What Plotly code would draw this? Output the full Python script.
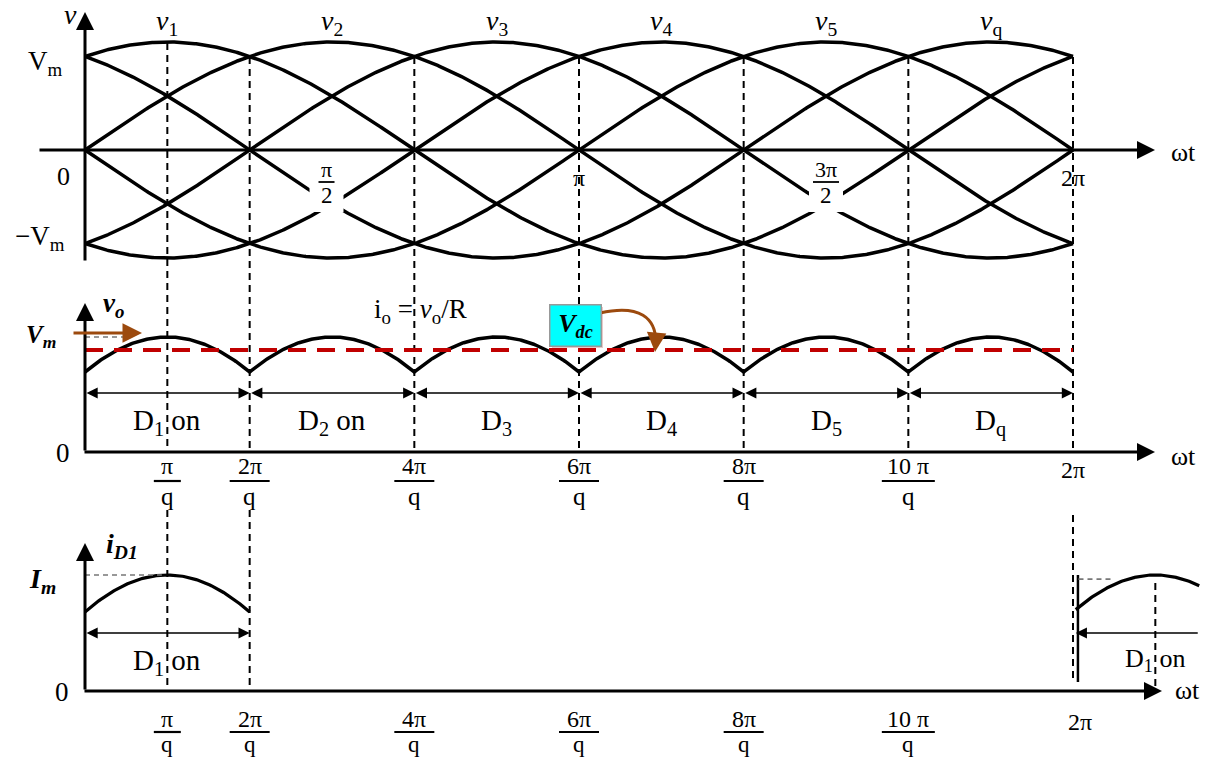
import numpy as np
import plotly.graph_objects as go

# ---------------- data ----------------
phase_labels = ["<i>v</i><sub>1</sub>", "<i>v</i><sub>2</sub>", "<i>v</i><sub>3</sub>",
                "<i>v</i><sub>4</sub>", "<i>v</i><sub>5</sub>", "<i>v</i><sub>q</sub>"]
phase_peak_deg = [30, 90, 150, 210, 270, 330]          # peak of each phase voltage (q = 6)
boundary_deg = [0, 60, 120, 180, 240, 300, 360]       # commutation instants 2kπ/q
diode_labels = ["D<sub>1</sub> on", "D<sub>2</sub> on", "D<sub>3</sub>",
                "D<sub>4</sub>", "D<sub>5</sub>", "D<sub>q</sub>"]
tick_deg = [30, 60, 120, 180, 240, 300]
tick_num = ["π", "2π", "4π", "6π", "8π", "10 π"]
tick_den = ["q", "q", "q", "q", "q", "q"]
top_frac_deg = [88, 270]
top_frac_num = ["π", "3π"]
top_frac_den = ["2", "2"]
top_single_deg = [180, 360]
top_single_txt = ["π", "2π"]
vm_level = 1.0          # Vm (per unit)
vdc_level = 0.95        # Vdc
id1_on_deg = [0, 60]    # D1 conducting interval
id1_next_deg = [361, 406]

# ---------------- geometry helpers ----------------
W, H = 1208, 759
X0_PX, DEG_PX = 85.0, 988.0 / 360.0
x_range = [-X0_PX / DEG_PX, (W - X0_PX) / DEG_PX]


def py(p):
    return 1 - p / H


def pxp(p):
    return p / W


def yrange(va, pa, vb, pb):
    s = (pb - pa) / (va - vb)
    top = va + pa / s
    return [top - H / s, top]


c30 = np.cos(np.radians(30))
r_top = yrange(1, 42, 0, 150)
r_mid = yrange(1, 337, c30, 372)
r_bot = yrange(1, 575, c30, 612)

SERIF = "Liberation Serif"
fig = go.Figure()

# ---------------- traces ----------------
theta = np.linspace(0, 360, 721)
for lab, pk in zip(phase_labels, phase_peak_deg):
    fig.add_trace(go.Scatter(x=theta, y=np.cos(np.radians(theta - pk)), mode="lines",
                             line=dict(color="black", width=3.5), yaxis="y", name=lab,
                             hoverinfo="skip", showlegend=False))
vo = np.max([np.cos(np.radians(theta - pk)) for pk in phase_peak_deg], axis=0)
fig.add_trace(go.Scatter(x=theta, y=vo, mode="lines", line=dict(color="black", width=3.5),
                         yaxis="y2", hoverinfo="skip", showlegend=False))
th1 = np.linspace(id1_on_deg[0], id1_on_deg[1], 121)
fig.add_trace(go.Scatter(x=th1, y=np.cos(np.radians(th1 - phase_peak_deg[0])), mode="lines",
                         line=dict(color="black", width=3.2), yaxis="y3", hoverinfo="skip",
                         showlegend=False))
th2 = np.linspace(id1_next_deg[0], id1_next_deg[1], 91)
fig.add_trace(go.Scatter(x=th2, y=np.cos(np.radians(th2 - 360 - phase_peak_deg[0])), mode="lines",
                         line=dict(color="black", width=3.2), yaxis="y3", hoverinfo="skip",
                         showlegend=False))

shapes = []
annotations = []


def label(x, xref, ypx, text, size=24, **kw):
    d = dict(x=x, xref=xref, y=py(ypx), yref="paper", text=text, showarrow=False,
             xanchor="center", yanchor="middle",
             font=dict(family=SERIF, size=size, color="black"))
    d.update(kw)
    annotations.append(d)


def txt(xp, ypx, t, size=24, bold=False, italic=False, **kw):
    if italic:
        t = "<i>" + t + "</i>"
    if bold:
        t = "<b>" + t + "</b>"
    label(pxp(xp), "paper", ypx, t, size, **kw)


DASH_BLK = dict(color="black", width=2, dash="7px,5px")

# vertical dashed lines (top + middle)
for b in boundary_deg[1:]:
    shapes.append(dict(type="line", xref="x", yref="paper", x0=b, x1=b, y0=py(57), y1=py(452),
                       line=DASH_BLK, layer="below"))
shapes.append(dict(type="line", xref="x", yref="paper", x0=30, x1=30, y0=py(43), y1=py(452),
                   line=DASH_BLK, layer="below"))
# bottom panel dashed lines
for b, y0, y1 in [(30, 510, 688), (60, 510, 690), (360, 515, 682)]:
    shapes.append(dict(type="line", xref="x", yref="paper", x0=b, x1=b, y0=py(y0), y1=py(y1),
                       line=DASH_BLK, layer="below"))
shapes.append(dict(type="line", xref="x", yref="paper", x0=390, x1=390, y0=py(583), y1=py(690),
                   line=DASH_BLK, layer="below"))
# restarted vertical axis at 2π in bottom panel
shapes.append(dict(type="line", xref="x", yref="paper", x0=361.8, x1=361.8, y0=py(575), y1=py(682),
                   line=dict(color="black", width=2.5)))

# Vm / Im grey dashed reference lines
GREY = dict(color="#777777", width=1.6, dash="5px,4px")
shapes.append(dict(type="line", xref="x", yref="y2", x0=0, x1=14, y0=vm_level, y1=vm_level, line=GREY))
shapes.append(dict(type="line", xref="x", yref="y3", x0=0, x1=28, y0=vm_level, y1=vm_level, line=GREY))
shapes.append(dict(type="line", xref="x", yref="y3", x0=362, x1=374, y0=0.985, y1=0.985, line=GREY))

# red Vdc dashed line
shapes.append(dict(type="line", xref="x", yref="y2", x0=0, x1=360, y0=vdc_level, y1=vdc_level,
                   line=dict(color="#C00000", width=4, dash="18px,11px")))

# white patches behind π/2 and 3π/2 labels + fraction bars
for d in top_frac_deg:
    xc = X0_PX + d * DEG_PX
    hw = 8 if d < 200 else 13
    shapes.append(dict(type="rect", xref="paper", yref="paper", x0=pxp(xc - 17), x1=pxp(xc + 17),
                       y0=py(212), y1=py(158), fillcolor="white", line=dict(width=0), layer="above"))
    shapes.append(dict(type="line", xref="paper", yref="paper", x0=pxp(xc - hw), x1=pxp(xc + hw),
                       y0=py(182), y1=py(182), line=dict(color="black", width=1.8), layer="above"))

# top fraction/single labels
for d, n, dn in zip(top_frac_deg, top_frac_num, top_frac_den):
    label(d, "x", 170, n, 22)
    label(d, "x", 195, dn, 23)
for d, t in zip(top_single_deg, top_single_txt):
    label(d, "x", 178, t, 24)

# phase labels
for lab, pk in zip(phase_labels, phase_peak_deg):
    label(pk, "x", 23, lab, 28)

# top panel axis labels
txt(70, 15, "v", 28, italic=True)
txt(45, 63, "V<sub>m</sub>", 27)
txt(63, 176, "0", 26)
txt(40, 238, "−V<sub>m</sub>", 27)
txt(1183, 153, "ωt", 26)


# axis arrows
def axis_arrow(hx, hy, tx, ty, w=3):
    annotations.append(dict(x=pxp(hx), xref="paper", y=py(hy), yref="paper", text="",
                            showarrow=True, axref="pixel", ayref="pixel", ax=tx - hx, ay=ty - hy,
                            arrowhead=2, arrowsize=1.2, arrowwidth=w, arrowcolor="black",
                            standoff=0, startstandoff=0))


axis_arrow(1155, 150, 38, 150)
axis_arrow(85, 12, 85, 262)
axis_arrow(1155, 452, 83, 452)
axis_arrow(85, 303, 85, 452)
axis_arrow(1162, 691, 83, 691)
axis_arrow(85, 543, 85, 691)

# middle panel labels
txt(113, 305, "v<sub>o</sub>", 27, bold=True, italic=True)
txt(41, 336, "V<sub>m</sub>", 25, bold=True, italic=True)
annotations.append(dict(x=pxp(142), xref="paper", y=py(333), yref="paper", text="", showarrow=True,
                        axref="pixel", ayref="pixel", ax=-70, ay=0, arrowhead=2, arrowsize=1.3,
                        arrowwidth=3, arrowcolor="#9C4A0E", standoff=0))
txt(420, 311, "i<sub>o</sub> = <i>v</i><sub>o</sub>/R", 27)
txt(63, 453, "0", 27)
txt(1183, 456, "ωt", 26)

# Vdc box
shapes.append(dict(type="rect", xref="paper", yref="paper", x0=pxp(552), x1=pxp(603), y0=py(348),
                   y1=py(307), fillcolor="#E8C8C8", line=dict(width=0)))
txt(575, 325, "V<sub>dc</sub>", 26, bold=True, italic=True, bgcolor="#00FFFF",
    bordercolor="#999999", borderwidth=1.5, borderpad=3, width=44, height=34)
shapes.append(dict(type="path", xref="paper", yref="paper",
                   path="M {},{} C {},{} {},{} {},{}".format(pxp(600), py(313), pxp(640), py(304),
                                                              pxp(656), py(318), pxp(656), py(343)),
                   line=dict(color="#9C4A0E", width=3)))
annotations.append(dict(x=pxp(655), xref="paper", y=py(352), yref="paper", text="", showarrow=True,
                        axref="pixel", ayref="pixel", ax=1, ay=-12, arrowhead=2, arrowsize=1.3,
                        arrowwidth=3, arrowcolor="#9C4A0E", standoff=0))

# D conduction arrows
for i, lab in enumerate(diode_labels):
    a, b = boundary_deg[i], boundary_deg[i + 1]
    annotations.append(dict(x=b, xref="x", y=py(393), yref="paper", axref="x", ax=a, ayref="pixel",
                            ay=0, text="", showarrow=True, arrowside="end+start", arrowhead=2,
                            arrowsize=1.4, arrowwidth=1.6, arrowcolor="black", standoff=0,
                            startstandoff=0))
    label((a + b) / 2, "x", 422, lab, 29)

# tick fraction labels (middle and bottom rows)
for ynum, ybar, yden, ysingle, two_pi_deg, dsize in [(466, 481, 496, 470, 360, 25),
                                                     (719, 732, 744, 722, 362.5, 23)]:
    for d, n, dn in zip(tick_deg, tick_num, tick_den):
        label(d, "x", ynum, n, 24)
        label(d, "x", yden, dn, dsize)
        half = 7 + 6.5 * len(n.replace(" ", ""))
        shapes.append(dict(type="line", xref="x", yref="paper", x0=d - half / DEG_PX,
                           x1=d + half / DEG_PX, y0=py(ybar), y1=py(ybar),
                           line=dict(color="black", width=2.2)))
    label(two_pi_deg, "x", ysingle, "2π", 24)

# bottom panel
txt(122, 545, "i<sub>D1</sub>", 28, bold=True, italic=True)
txt(42, 580, "I<sub>m</sub>", 28, bold=True, italic=True)
txt(62, 692, "0", 27)
txt(1187, 690, "ωt", 26)
annotations.append(dict(x=id1_on_deg[1], xref="x", y=py(633), yref="paper", axref="x",
                        ax=id1_on_deg[0], ayref="pixel", ay=0, text="", showarrow=True,
                        arrowside="end+start", arrowhead=2, arrowsize=1.4, arrowwidth=1.6,
                        arrowcolor="black", standoff=0, startstandoff=0))
annotations.append(dict(x=id1_next_deg[0], xref="x", y=py(633), yref="paper", axref="x",
                        ax=id1_next_deg[1], ayref="pixel", ay=0, text="", showarrow=True,
                        arrowhead=2, arrowsize=1.4, arrowwidth=1.6, arrowcolor="black",
                        standoff=0))
label(30, "x", 662, diode_labels[0], 29)
label(390, "x", 660, diode_labels[0], 26)

fig.update_layout(
    width=W, height=H, margin=dict(l=0, r=0, t=0, b=0),
    paper_bgcolor="white", plot_bgcolor="white", showlegend=False,
    xaxis=dict(range=x_range, visible=False, fixedrange=True),
    yaxis=dict(range=r_top, visible=False, domain=[0, 1]),
    yaxis2=dict(range=r_mid, visible=False, overlaying="y", anchor="x"),
    yaxis3=dict(range=r_bot, visible=False, overlaying="y", anchor="x"),
    shapes=shapes, annotations=annotations,
)

fig.write_html("out.html", config={"displayModeBar": False},
               post_script="document.body.style.margin='0';")
